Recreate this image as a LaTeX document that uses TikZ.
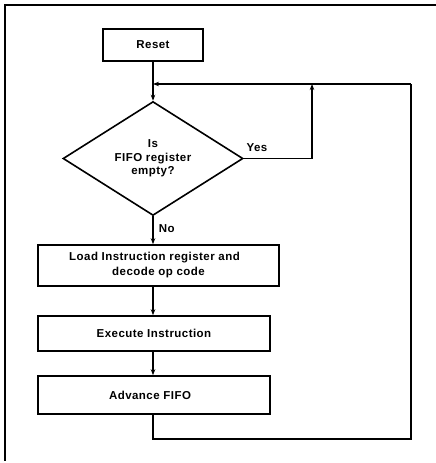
\documentclass[tikz,border=0pt]{standalone}
\usepackage{fontspec}
\setmainfont{Liberation Sans}[LetterSpace=4]
\usetikzlibrary{shapes.geometric,arrows.meta}
\tikzset{
  px/.style={x=1pt,y=-1pt},
  line/.style={line width=1.6pt},
  arr/.style={line,-{Stealth[length=6pt,width=4.5pt]}},
  box/.style={draw,line width=1.6pt,rectangle,inner sep=0pt,align=center,font=\fontsize{11.5}{15}\selectfont\bfseries},
  dec/.style={draw,line width=1.6pt,diamond,inner sep=0pt,align=center,minimum width=180pt,minimum height=107pt,font=\fontsize{11.5}{13.5}\selectfont\bfseries},
  lab/.style={font=\fontsize{11.5}{13.5}\selectfont\bfseries,inner sep=0pt}
}
\begin{document}
\begin{tikzpicture}[px]
\useasboundingbox (0,0) rectangle (436,463);
\coordinate (fa) at (436,5);
\coordinate (fb) at (5,5);
\coordinate (fc) at (5,461);
\draw[line width=1.4pt] (fa) -- (fb) -- (fc);
\node[box,minimum width=100pt,minimum height=32pt] (reset) at (153,45) {Reset};
\node[dec] (dia) at (153,158.5) {Is\\FIFO register\\empty?};
\node[box,minimum width=241pt,minimum height=41pt] (load) at (158.5,265.5) {\hspace*{-8pt}Load Instruction register and\\decode op code};
\node[box,minimum width=232pt,minimum height=35pt] (exec) at (154,333.5) {Execute Instruction};
\node[box,minimum width=232pt,minimum height=38pt] (adv) at (154,395) {Advance FIFO\hspace*{8pt}};
\coordinate (j) at (153,84);
\coordinate (yc) at (312,158.5);
\coordinate (yt) at (312,84);
\coordinate (rb) at (411,439);
\coordinate (rt) at (411,84);
\coordinate (ab) at (153,439);
\draw[arr] (reset.south) -- (dia.north);
\draw[arr] (dia.south) -- (dia.south |- load.north) node[lab,pos=0.45,anchor=west,xshift=5pt] {No};
\draw[arr] (load.south -| dia.south) -- (exec.north -| dia.south);
\draw[arr] (exec.south -| dia.south) -- (adv.north -| dia.south);
\draw[line] (adv.south -| dia.south) -- (ab) -- (rb) -- (rt);
\draw[arr] (rt) -- (j);
\draw[line] (dia.east) -- (yc);
\draw[arr] (yc) -- (yt);
\node[lab] (yes) at (257,148) {Yes};
\end{tikzpicture}
\end{document}
